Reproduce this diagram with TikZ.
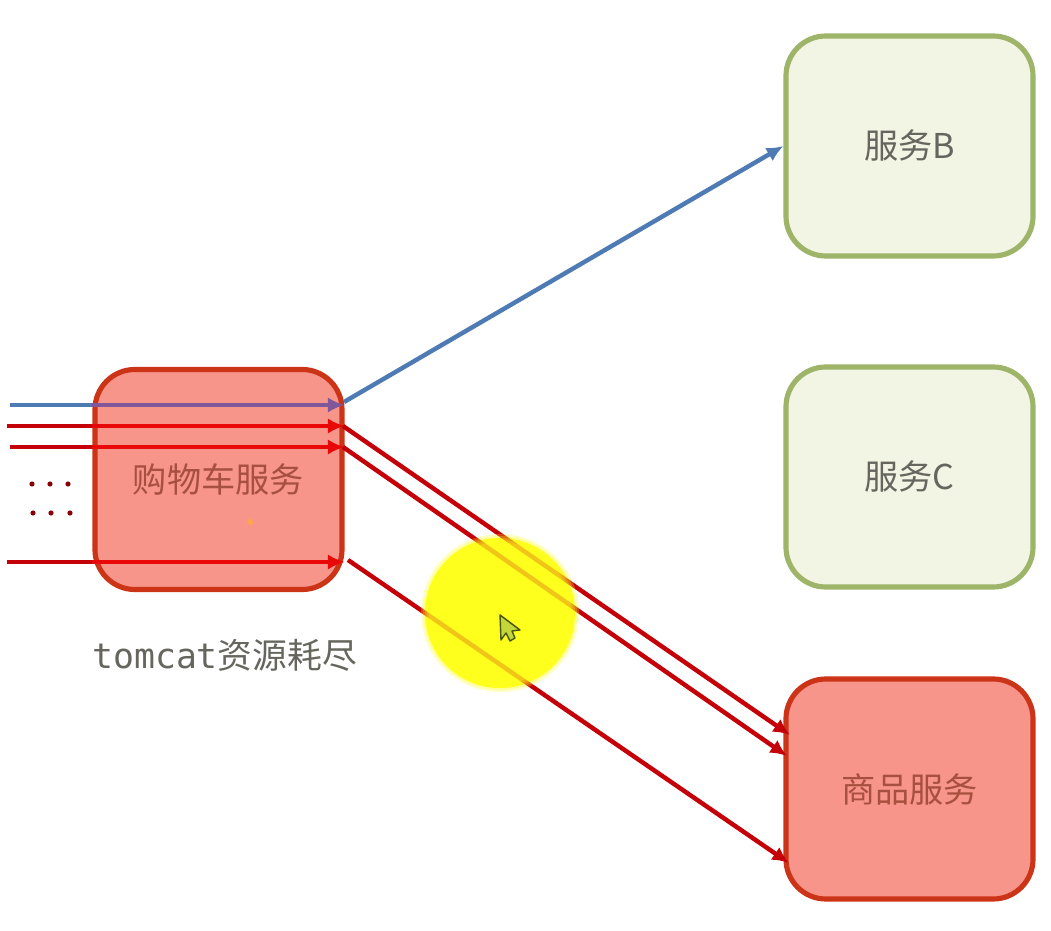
\documentclass[tikz,border=0pt]{standalone}
\usepackage{fontspec}
\setmainfont{Noto Sans CJK SC}
\newfontfamily\monocjk{DejaVu Sans Mono}
\usetikzlibrary{arrows.meta,calc,positioning}
\definecolor{hotfill}{HTML}{F8958A}
\definecolor{hotedge}{HTML}{CC3418}
\definecolor{hottext}{HTML}{A8503F}
\definecolor{okfill}{HTML}{F2F4E4}
\definecolor{okedge}{HTML}{9DB469}
\definecolor{oktext}{HTML}{66665E}
\definecolor{reqblue}{HTML}{4F7BB5}
\definecolor{reqpurple}{HTML}{80589A}
\definecolor{reqred}{HTML}{C40008}
\definecolor{reqbright}{HTML}{E80808}
\definecolor{spot}{HTML}{FFFF1E}
\definecolor{cursorfill}{HTML}{C3D63A}
\definecolor{cursoredge}{HTML}{4A5510}
\tikzset{
    svcbox/.style={rectangle,rounded corners=34pt,line width=4.4pt,minimum width=7.41cm,minimum height=6.6cm,inner sep=0pt,font=\fontsize{29.2pt}{32pt}\selectfont},
    hotbox/.style={svcbox,draw=hotedge,fill=hotfill,text=hottext},
    okbox/.style={svcbox,draw=okedge,fill=okfill,text=oktext},
    reqline/.style={-{Latex[length=5mm,width=4.6mm]},line width=3.8pt},
    bluereq/.style={reqline,reqblue},
    redreq/.style={reqline,reqred}
}
\begin{document}
\begin{tikzpicture}[x=0.03cm,y=-0.03cm]
  \useasboundingbox (0,0) rectangle (1051,931);
  % coordinates of the free ends
  \coordinate (inB) at (10,405);
  \coordinate (inA) at (7,426);
  \coordinate (inC) at (10,447);
  \coordinate (inD) at (7,562);
  \coordinate (outB) at (344,402);
  \coordinate (outA) at (343,426);
  \coordinate (outC) at (343,447);
  \coordinate (outD) at (348,560);
  \coordinate (goodsA) at (790,735);
  \coordinate (goodsC) at (787,756);
  \coordinate (goodsD) at (789,863);
  % spot under the lines
  \fill[spot] (500,613) circle (75);
  \node[hotbox] (cart) at (218.5,479.5) {购物车服务};
  \node[okbox] (svcB) at (909.5,146) {服务B};
  \node[okbox] (svcC) at (909.5,477) {服务C};
  \node[hotbox] (goods) at (909.5,789) {商品服务};
  \node[anchor=west,text=oktext,inner sep=0pt,font=\fontsize{29.7pt}{32pt}\selectfont] (tomcat) at (92,655) {{\monocjk tomcat}资源耗尽};
  % lines into the cart box
  \draw[reqblue,line width=3.8pt] (inB) -- (cart.west |- inB);
  \draw[reqline,reqpurple] (cart.west |- inB) -- (cart.east |- inB);
  \foreach \P in {inA,inC,inD}{
    \draw[reqred,line width=3.8pt] (\P) -- (cart.west |- \P);
    \draw[reqline,reqbright] (cart.west |- \P) -- (cart.east |- \P);
  }
  % lines out of it
  \draw[bluereq] (outB) -- (svcB.west);
  \foreach \P/\Q in {outA/goodsA,outC/goodsC,outD/goodsD}{\draw[redreq] (\P) -- (\Q);}
  % dots
  \foreach \X in {32,50,68}{\fill[reqred!70!black] (\X,484) circle (2.6);}
  \foreach \X in {33,51,70}{\fill[reqred!70!black] (\X,513) circle (2.6);}
  \fill[orange!70] (250,522) circle (3);
  % spot over the lines
  \foreach \R in {79,77,75,73,71}{\fill[spot,fill opacity=0.26] (500,613) circle (\R);}
  \draw[draw=cursoredge,fill=cursorfill,line width=1.2pt,line join=round]
    (500,615)--(501,640)--(506,633)--(510,641)--(515,638)--(512,631)--(520,630)--cycle;
\end{tikzpicture}
\end{document}
